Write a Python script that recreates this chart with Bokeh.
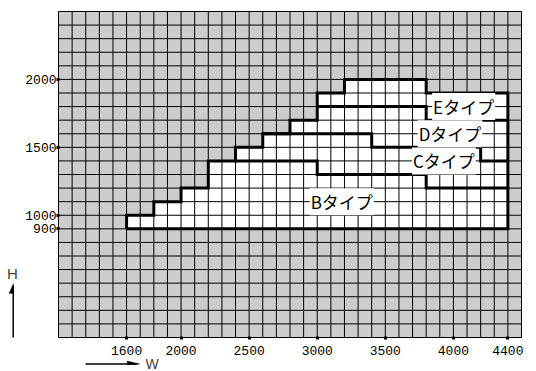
from bokeh.plotting import figure
from bokeh.models import Range1d, FixedTicker, ColumnDataSource, Label, Arrow, PolyAnnotation
from bokeh.core.properties import value
from bokeh.embed import file_html
from bokeh.resources import INLINE

# ---- data ----
x_ticks = [1600, 2000, 2500, 3000, 3500, 4000, 4400]
y_ticks = [900, 1000, 1500, 2000]
x_lo, x_hi, y_lo, y_hi, grid_step = 1100, 4500, 100, 2500, 100

outer_w = [1600, 1600, 1800, 1800, 2000, 2000, 2200, 2200, 2400, 2400, 2600, 2600,
           2800, 2800, 3000, 3000, 3200, 3200, 3800, 3800, 4400, 4400]
outer_h = [900, 1000, 1000, 1100, 1100, 1200, 1200, 1400, 1400, 1500, 1500, 1600,
           1600, 1700, 1700, 1900, 1900, 2000, 2000, 1900, 1900, 900]

bc_w = [2400, 3000, 3000, 3800, 3800, 4400]
bc_h = [1400, 1400, 1300, 1300, 1200, 1200]
cd_w = [2600, 3400, 3400, 4200, 4200, 4400]
cd_h = [1600, 1600, 1500, 1500, 1400, 1400]
de_w = [3000, 3800, 3800, 4400]
de_h = [1800, 1800, 1700, 1700]

type_names = ["Bタイプ", "Cタイプ", "Dタイプ", "Eタイプ"]
type_w = [3180, 3930, 3975, 4075]
type_h = [1100, 1400, 1600, 1800]

# ---- layout (pixels) ----
W, H = 536, 371
grid_left, grid_right, grid_top, grid_bottom = 58, 521, 11, 337
kx = (x_hi - x_lo) / (grid_right - grid_left)
ky = (y_hi - y_lo) / (grid_bottom - grid_top)
xr = Range1d(x_lo - grid_left * kx, x_hi + (W - grid_right) * kx)
yr = Range1d(y_lo - (H - grid_bottom) * ky, y_hi + grid_top * ky)

p = figure(width=W, height=H, x_range=xr, y_range=yr,
           output_backend="svg", toolbar_location=None,
           min_border_left=0, min_border_right=0, min_border_top=0, min_border_bottom=0)
p.background_fill_color = "white"
p.border_fill_color = "white"
p.outline_line_color = None
p.grid.visible = False

# gray field
p.quad(left=[x_lo], right=[x_hi], bottom=[y_lo], top=[y_hi],
       fill_color="#cccccc", line_color=None, level="image")
# white allowed area
p.patch(outer_w, outer_h, fill_color="white", line_color=None, level="image")

# grid lines
gx = list(range(x_lo, x_hi + 1, grid_step))
gy = list(range(y_lo, y_hi + 1, grid_step))
p.segment(x0=gx, y0=[y_lo] * len(gx), x1=gx, y1=[y_hi] * len(gx),
          line_color="black", line_width=1, level="underlay")
p.segment(x0=[x_lo] * len(gy), y0=gy, x1=[x_hi] * len(gy), y1=gy,
          line_color="black", line_width=1, level="underlay")

# axes fixed at the field's edges
p.xaxis.fixed_location = y_lo
p.yaxis.fixed_location = x_lo
p.xaxis.ticker = FixedTicker(ticks=x_ticks)
p.yaxis.ticker = FixedTicker(ticks=y_ticks)
for ax in (p.xaxis, p.yaxis):
    ax.axis_line_color = None
    ax.minor_tick_line_color = None
    ax.major_tick_line_color = "black"
    ax.major_tick_line_width = 3
    ax.major_tick_in = 1
    ax.major_tick_out = 2
    ax.major_label_text_font = "Liberation Mono"
    ax.major_label_text_font_size = "13px"
    ax.major_label_text_color = "black"
p.xaxis.major_label_standoff = 6
p.yaxis.major_label_standoff = 0

# boundaries
p.line(outer_w + [outer_w[0]], outer_h + [outer_h[0]], line_color="black", line_width=3, line_join="miter")
for xs, ys in ((bc_w, bc_h), (cd_w, cd_h), (de_w, de_h)):
    p.line(xs, ys, line_color="black", line_width=3, line_join="miter")

src = ColumnDataSource(dict(x=type_w, y=type_h, t=type_names))
p.text(x="x", y="y", text="t", source=src, text_font=value("Noto Sans CJK JP"),
       text_font_size="17px", text_align="center", text_baseline="middle",
       text_color="black", background_fill_color="white", padding=1, level="annotation")

# H / W direction arrows (canvas units)
p.add_layout(Label(x=12, y=273, x_units="canvas", y_units="canvas", text="H",
                   text_font="Liberation Sans", text_font_size="15px",
                   text_align="center", text_baseline="middle"))
p.add_layout(Label(x=151.5, y=363, x_units="canvas", y_units="canvas", text="W",
                   text_font="Liberation Sans", text_font_size="14px",
                   text_align="center", text_baseline="middle"))
p.add_layout(Arrow(x_start=12.7, y_start=337, x_end=12.7, y_end=285,
                   start_units="canvas", end_units="canvas", end=None,
                   line_color="black", line_width=1.5))
p.add_layout(Arrow(x_start=85, y_start=363.5, x_end=137, y_end=363.5,
                   start_units="canvas", end_units="canvas", end=None,
                   line_color="black", line_width=1.5))
p.add_layout(PolyAnnotation(xs=[12.9, 8.5, 13.2], ys=[283, 293, 293],
                            xs_units="canvas", ys_units="canvas",
                            fill_color="black", fill_alpha=1, line_color="black"))
p.add_layout(PolyAnnotation(xs=[139.5, 126.7, 126.7], ys=[363.5, 360.5, 364.2],
                            xs_units="canvas", ys_units="canvas",
                            fill_color="black", fill_alpha=1, line_color="black"))

open("out.html", "w").write(file_html(p, INLINE))
